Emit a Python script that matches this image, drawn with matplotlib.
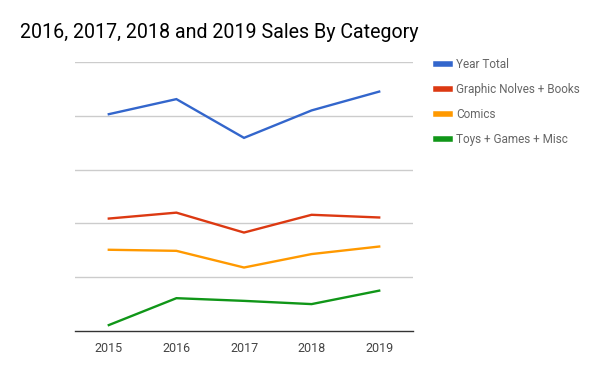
import matplotlib
matplotlib.use("Agg")
import matplotlib.pyplot as plt

years = ["2015", "2016", "2017", "2018", "2019"]
year_total = [4.03, 4.31, 3.59, 4.10, 4.45]
graphic_novels_books = [2.09, 2.20, 1.83, 2.16, 2.11]
comics = [1.51, 1.49, 1.18, 1.43, 1.57]
toys_games_misc = [0.11, 0.61, 0.56, 0.50, 0.75]

series_names = ["Year Total", "Graphic Nolves + Books", "Comics", "Toys + Games + Misc"]
colors = ["#3366cc", "#dc3912", "#ff9900", "#109618"]

plt.rcParams['font.family'] = ['Roboto', 'DejaVu Sans']

fig = plt.figure(figsize=(6, 3.71), dpi=100)
ax = fig.add_axes([75/600, 1 - 331/371, (413 - 75)/600, (331 - 62)/371])

x = list(range(len(years)))
lines = []
for vals, c, name in zip([year_total, graphic_novels_books, comics, toys_games_misc], colors, series_names):
    l, = ax.plot(x, vals, color=c, lw=1.7, label=name, solid_joinstyle='miter')
    lines.append(l)

ax.set_xlim(-0.5, 4.5)
ax.set_ylim(0, 5)
ax.set_yticks([1, 2, 3, 4, 5])
ax.set_yticklabels([])
ax.tick_params(axis='y', length=0)
ax.grid(axis='y', color='#cccccc', lw=1)
ax.set_axisbelow(True)
ax.set_xticks(x)
ax.set_xticklabels(years, color='#444444', fontsize=9)
ax.tick_params(axis='x', length=0, pad=8)
for s in ['top', 'right', 'left']:
    ax.spines[s].set_visible(False)
ax.spines['bottom'].set_color('#333333')
ax.spines['bottom'].set_linewidth(1)

fig.text(20/600, 1 - 32/371, "2016, 2017, 2018 and 2019 Sales By Category",
         fontsize=14.1, color='#000000', va='center', ha='left')

leg = fig.legend(handles=lines, loc='upper left', bbox_to_anchor=(431/600, 1 - 53/371),
                 frameon=False, fontsize=8.5, handlelength=1.2, handletextpad=0.5,
                 labelspacing=1.02, borderaxespad=0)
for t in leg.get_texts():
    t.set_color('#666666')
for h in leg.legend_handles:
    h.set_linewidth(4)

fig.savefig("out.png", dpi=100)
